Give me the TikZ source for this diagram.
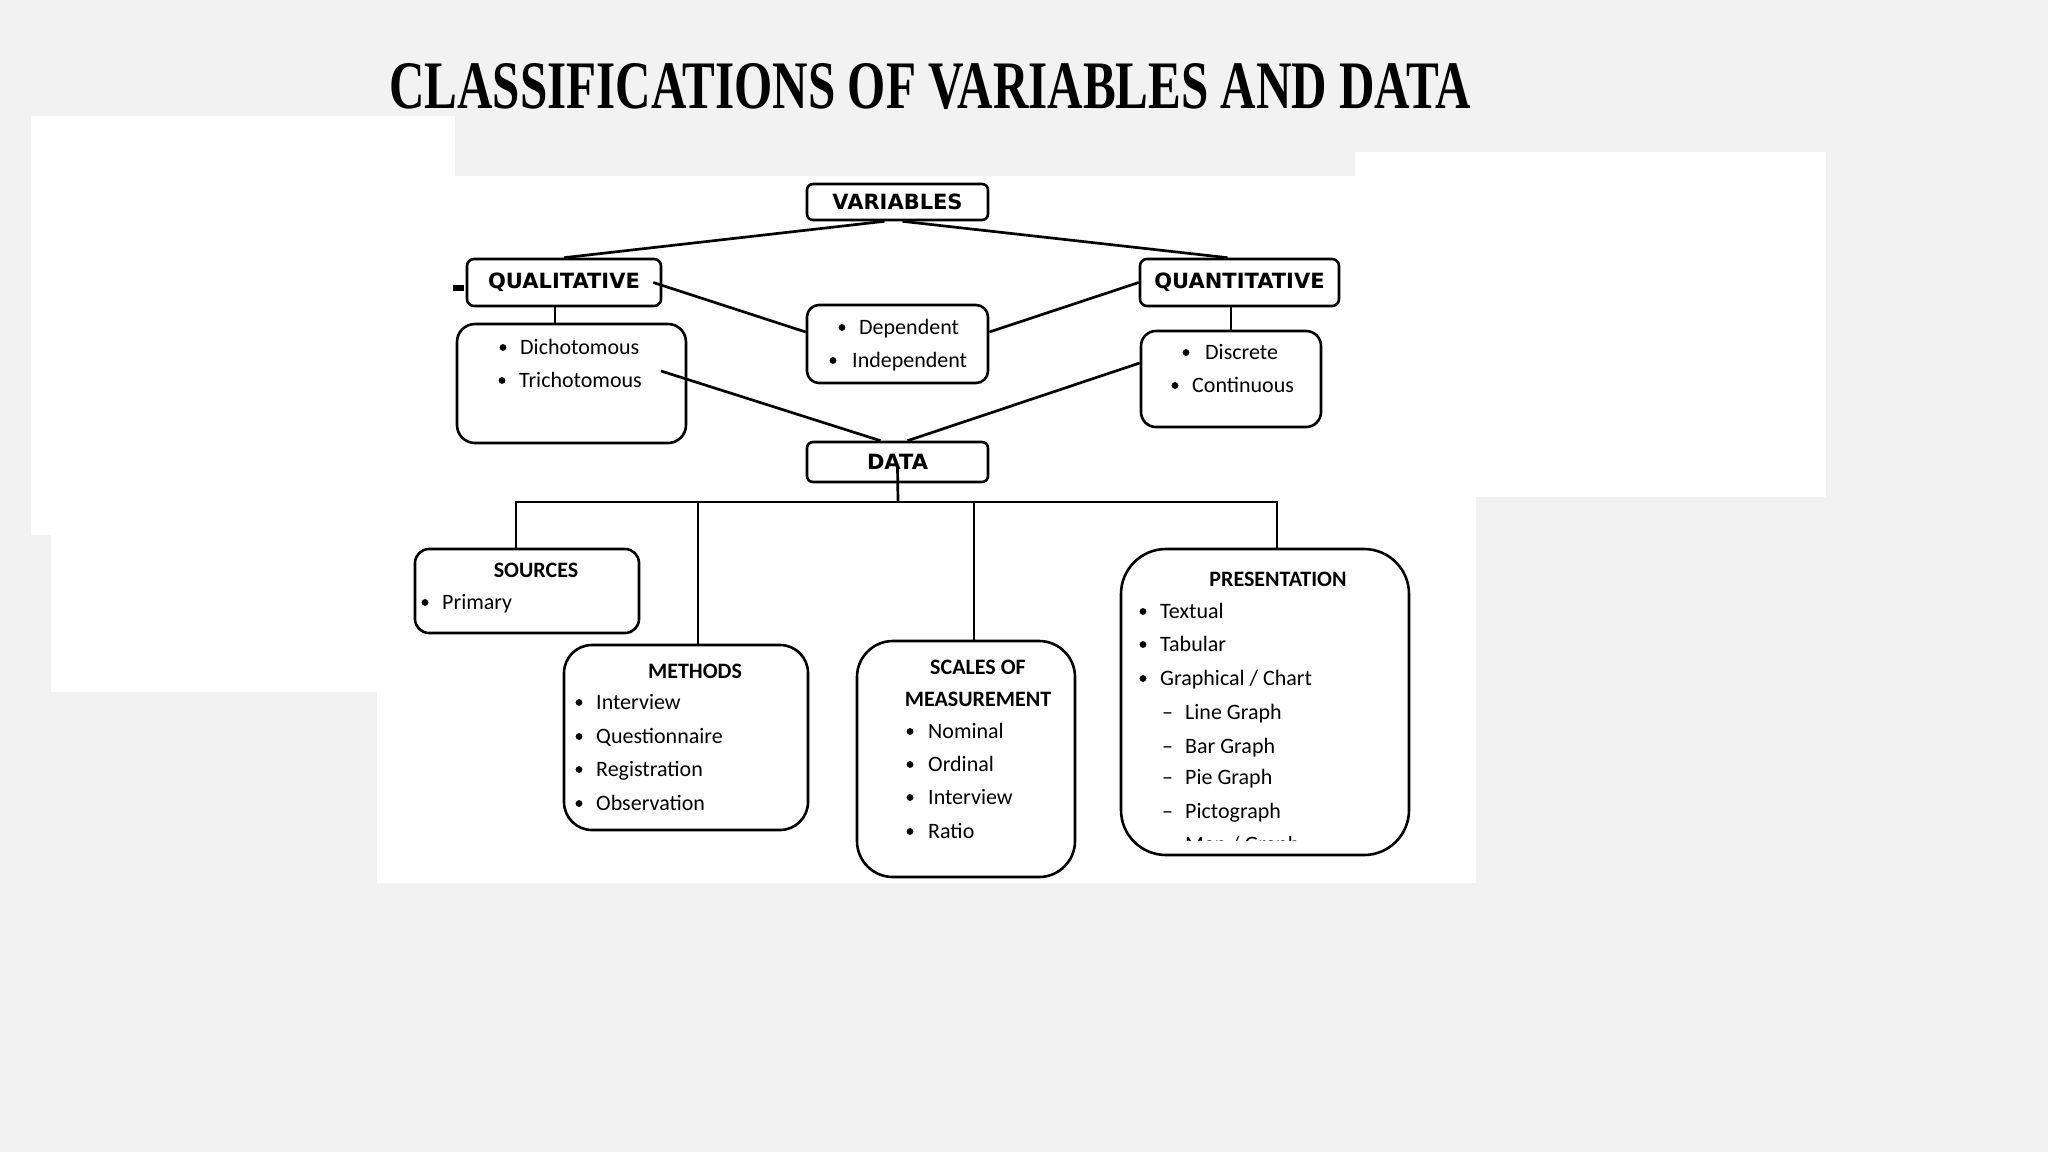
\documentclass[tikz,border=0pt]{standalone}
\usepackage{fontspec}
\setmainfont{Carlito}
\newfontfamily\hdfont{DejaVu Sans}
\newfontfamily\ttlfont{Liberation Serif}
\usetikzlibrary{calc}
\definecolor{bggray}{HTML}{F2F2F2}
\tikzset{
  bx/.style={draw, line width=2.6pt, inner sep=0pt},
  ln/.style={line width=2.7pt},
  hd/.style={font=\hdfont\bfseries\fontsize{21}{25}\selectfont},
  bt/.style={font=\bfseries\fontsize{22}{26}\selectfont, inner sep=0pt, anchor=base},
  it/.style={font=\fontsize{22}{26}\selectfont, inner sep=0pt, anchor=base west},
}
\newcommand\itm[5]{\fill (#2,#4-6.5) circle (3.4pt); \node[it] (#1) at (#3,#4) {#5};}
\begin{document}
\begin{tikzpicture}[x=1pt,y=-1pt]
\useasboundingbox (0,0) rectangle (2048,1152);
% background
\fill[bggray] (0,0) rectangle (2048,1152);
\fill[white] (31,116) rectangle (455,535);
\fill[white] (51,535) rectangle (377,692);
\fill[white] (377,176) rectangle (1476,883);
\fill[white] (1355,152) rectangle (1826,497);
% title
\node[anchor=north west, inner sep=0pt] (title) at (389,63)
  {\resizebox{1082pt}{45pt}{\ttlfont\bfseries CLASSIFICATIONS OF VARIABLES AND DATA}};
% top boxes
\node[bx, hd, rounded corners=6pt, minimum width=181pt, minimum height=36pt] (var) at (897.5,202) {VARIABLES};
\node[bx, hd, rounded corners=7pt, minimum width=194pt, minimum height=47pt] (qual) at (564,282.5) {QUALITATIVE};
\node[bx, hd, rounded corners=7pt, minimum width=199pt, minimum height=47pt] (quant) at (1239.5,282.5) {QUANTITATIVE};
\node[bx, rounded corners=12pt, minimum width=181pt, minimum height=78pt] (dep) at (897.5,344) {};
\node[bx, rounded corners=18pt, minimum width=229pt, minimum height=119pt] (dich) at (571.5,383.5) {};
\node[bx, rounded corners=15pt, minimum width=180pt, minimum height=96pt] (disc) at (1231,379) {};
\node[bx, hd, rounded corners=6pt, minimum width=181pt, minimum height=40pt] (data) at (897.5,462) {DATA};
% small mark left of QUALITATIVE
\fill (453,285) rectangle (464,291);
% bottom boxes
\node[bx, rounded corners=14pt, minimum width=224pt, minimum height=84pt] (src) at (527,591) {};
\node[bx, rounded corners=28pt, minimum width=244pt, minimum height=185pt] (meth) at (686,737.5) {};
\node[bx, rounded corners=36pt, minimum width=218pt, minimum height=236pt] (scl) at (966,759) {};
\node[bx, rounded corners=45pt, minimum width=288pt, minimum height=306pt] (pres) at (1265,702) {};
% list texts
\itm{dep1}{842}{859}{334}{Dependent}
\itm{dep2}{833}{852}{367}{Independent}
\itm{dich1}{503}{520}{354}{Dichotomous}
\itm{dich2}{502}{519}{387}{Trichotomous}
\itm{disc1}{1186}{1205}{359}{Discrete}
\itm{disc2}{1175}{1192}{392}{Continuous}
\node[bt] (srct) at (536,577) {SOURCES};
\itm{src1}{425}{442}{609}{Primary}
\node[bt] (metht) at (695,678) {METHODS};
\itm{meth1}{579}{596}{709}{Interview}
\itm{meth2}{579}{596}{743}{Questionnaire}
\itm{meth3}{579}{596}{776}{Registration}
\itm{meth4}{579}{596}{810}{Observation}
\node[bt] (sclt1) at (978,674) {SCALES OF};
\node[bt] (sclt2) at (978,706) {MEASUREMENT};
\itm{scl1}{910}{928}{738}{Nominal}
\itm{scl2}{910}{928}{771}{Ordinal}
\itm{scl3}{910}{928}{804}{Interview}
\itm{scl4}{910}{928}{838}{Ratio}
\node[bt] (prest) at (1278,586) {PRESENTATION};
\itm{pres1}{1143}{1160}{618}{Textual}
\itm{pres2}{1143}{1160}{651}{Tabular}
\itm{pres3}{1143}{1160}{685}{Graphical / Chart}
\node[it] (pres4) at (1162,719) {\makebox[23pt][l]{–}Line Graph};
\node[it] (pres5) at (1162,753) {\makebox[23pt][l]{–}Bar Graph};
\node[it] (pres6) at (1162,784) {\makebox[23pt][l]{–}Pie Graph};
\node[it] (pres7) at (1162,818) {\makebox[23pt][l]{–}Pictograph};
\begin{scope}
\clip (1150,836.5) rectangle (1400,840);
\node[it] (pres8) at (1162,851) {\makebox[23pt][l]{–}Map / Graph};
\end{scope}
% connectors
\draw[ln] ($(var.south)+(-13,0)$) -- (qual.north);
\draw[ln] ($(var.south)+(5,0)$) -- ($(quant.north)+(-12,0)$);
\draw[ln] ($(qual.east)+(-9,0)$) -- ($(dep.west)+(0,-12)$);
\draw[ln] (quant.west) -- ($(dep.east)+(0,-12)$);
\coordinate (qs) at ($(qual.south)+(-9,0)$);
\draw[ln] (qs) -- (qs |- dich.north);
\draw[ln] (disc.north) -- (disc.north |- quant.south);
\coordinate (dichend) at (661,371);
\draw[ln] (dichend) -- ($(data.north)+(-17,0)$);
\draw[ln] ($(disc.west)+(0,-16)$) -- ($(data.north)+(10,0)$);
\coordinate (bus) at (898,502);
\draw[ln] ($(data.center)+(0,5)$) -- (bus);
\coordinate (bsrc) at (516,502);
\coordinate (bmeth) at (698,502);
\coordinate (bscl) at (974,502);
\coordinate (bpres) at (1277,502);
\draw[ln] (bsrc |- src.north) -- (bsrc) -- (bpres) -- (bpres |- pres.north);
\draw[ln] (bmeth) -- (bmeth |- meth.north);
\draw[ln] (bscl) -- (bscl |- scl.north);
\end{tikzpicture}
\end{document}
